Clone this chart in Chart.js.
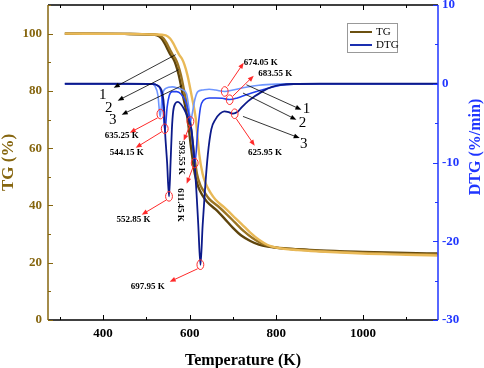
<!DOCTYPE html>
<html>
<head>
<meta charset="utf-8">
<script src="https://cdn.jsdelivr.net/npm/chart.js@4.4.0/dist/chart.umd.min.js"></script>
<style>
html,body{margin:0;padding:0;background:#fff;}
canvas{display:block;}
</style>
</head>
<body>
<canvas id="c" width="484" height="368"></canvas>
<script>
// ---- tick labels ----
const xTicks = [400, 600, 800, 1000];
const xMinor = [300, 500, 700, 900, 1100];
const tgTicks = [0, 20, 40, 60, 80, 100];
const tgMinor = [10, 30, 50, 70, 90, 110];
const dtgTicks = [-30, -20, -10, 0, 10];
const dtgMinor = [-25, -15, -5, 5];

// ---- TG series (temperature K, mass %) ----
const tempTG1 = [312, 450, 510, 525, 535, 542, 550, 556, 562, 568, 575, 585, 595, 604, 612, 620, 630, 640, 660, 680, 700, 720, 740, 760, 780, 800, 850, 900, 1000, 1100, 1172];
const tg1 =     [100, 99.9, 99.7, 99.4, 98.3, 96.7, 94.3, 92.6, 91.3, 89.2, 85.5, 78, 70.5, 59.4, 51, 46.5, 43.4, 41.3, 38.6, 35.5, 32.2, 29.4, 27.6, 26.3, 25.6, 25.2, 24.7, 24.3, 23.8, 23.4, 23.2];
const tempTG2 = [312, 450, 515, 530, 540, 547, 555, 561, 567, 573, 580, 590, 600, 609, 617, 625, 635, 645, 665, 685, 705, 725, 745, 765, 785, 800, 850, 900, 1000, 1100, 1172];
const tg2 =     [100, 99.9, 99.7, 99.4, 98.3, 96.7, 94.3, 92.6, 91.3, 89.2, 85.5, 78, 70.5, 59.4, 51, 47, 44.5, 42.3, 39.8, 37, 34, 31, 28.6, 26.8, 25.7, 25.3, 24.6, 24.1, 23.5, 23.1, 22.9];
const tempTG3 = [312, 450, 520, 545, 555, 562, 570, 576, 582, 588, 595, 605, 614, 622, 630, 638, 648, 660, 680, 700, 720, 740, 760, 780, 800, 850, 900, 1000, 1100, 1172];
const tg3 =     [100, 99.9, 99.7, 99.4, 98.3, 96.7, 94.3, 92.6, 91.3, 89.2, 85.5, 78, 70.5, 58, 51, 47.3, 44.5, 42, 39.3, 36.4, 33.5, 30.5, 28, 26.2, 25.3, 24.4, 23.9, 23.2, 22.8, 22.5];

// ---- DTG series (temperature K, %/min) ----
const tempDTG1 = [312, 450, 510, 520, 527, 532, 537, 545, 560, 575, 585, 593, 598, 602, 607, 612, 619, 630, 645, 660, 681, 700, 730, 760, 800, 850, 1000, 1172];
const dtg1 =     [0, 0, 0, -0.3, -1.5, -4.2, -1.5, -0.6, -0.4, -0.6, -0.8, -1.3, -3, -4.8, -3.5, -2, -1.0, -0.8, -0.7, -0.8, -0.98, -0.8, -0.45, -0.2, -0.05, 0, 0, 0];
const tempDTG2 = [312, 450, 515, 525, 533, 538, 543, 548, 553, 560, 570, 580, 590, 598, 604, 612, 619, 625, 632, 645, 660, 675, 692, 710, 731, 760, 785, 810, 840, 900, 1000, 1172];
const dtg2 =     [0, 0, 0, -0.2, -0.8, -2.5, -6, -3, -1.5, -1.0, -1.0, -1.3, -2.2, -3.8, -5.8, -10.1, -5.8, -3, -2.1, -1.8, -1.8, -1.85, -2.0, -1.8, -1.4, -0.9, -0.5, -0.2, -0.05, 0, 0, 0];
const tempDTG3 = [312, 450, 515, 525, 532, 537, 541, 543, 548, 552.5, 556, 559, 562, 567, 573, 580, 588, 596, 604, 610, 616, 620, 625, 630, 636, 642, 650, 660, 670, 680, 690, 700, 710, 720, 735, 750, 770, 790, 810, 840, 900, 1000, 1172];
const dtg3 =     [0, 0, -0.05, -0.2, -0.5, -1.2, -3, -5.8, -10, -14.3, -10, -5.8, -3.5, -2.5, -2.3, -2.6, -3.3, -4.3, -5.8, -9, -14, -18, -23, -18, -13, -9, -5.8, -4.5, -3.8, -3.5, -3.6, -3.8, -3.6, -3.0, -2.2, -1.6, -0.9, -0.4, -0.15, -0.03, 0, 0, 0];

// ---- annotations (data units: K, %/min) ----
const circles = [[681,-0.98],[692.4,-2.03],[703.9,-3.81],[532.5,-3.85],[542.5,-5.71],[552.4,-14.3],[601.8,-4.79],[611.7,-10.07],[624.8,-22.98]];
const redArrows = [[687.9,-0.32,724.8,2.67],[699.4,-1.59,747.9,1.02],[707.5,-4.44,750.2,-7.87],[526.3,-4.32,461.8,-6.22],[535.5,-6.1,475.5,-8.13],[547.1,-14.73,489.4,-16.63],[600.2,-5.33,586.3,-7.24],[608.2,-10.54,593.2,-12.7],[618.6,-23.49,554,-25.14]];
const peakLabels = [["674.05 K",725,2.67,0],["683.55 K",758.3,1.27,0],["625.95 K",734.7,-8.8,0],["635.25 K",404,-6.6,0],["544.15 K",415.8,-8.76,0],["552.85 K",431,-17.27,0],["697.95 K",464,-25.78,0],["593.55 K",580,-9.4,1],["611.45 K",579.5,-15.4,1]];
const blackArrowsTG = [[567.8,92.66,424.8,81.1],[574.8,87.4,434,76.6],[581.7,81.8,443.2,71.7]];
const curveLabelsTG = [["1",399.6,78.7],["2",413.4,74.1],["3",422.6,69.9]];
const blackArrowsDTG = [[731,-0.13,857.9,-3.3],[723.1,-1.18,846.4,-4.57],[723.1,-4.15,854,-6.9]];
const curveLabelsDTG = [["1",869.5,-3.17],["2",860.2,-4.95],["3",863.2,-7.6]];

const BROWN = '#86660f';
const BLUE = '#1f35ff';
const FONT = '"Liberation Serif", "Times New Roman", serif';

function pts(t, v){ return t.map((x,i)=>({x:x, y:v[i]})); }

function drawArrow(ctx, x0, y0, x1, y1, color, lw){
  const ang = Math.atan2(y1-y0, x1-x0);
  const hl = 6, hw = 2.4;
  ctx.save();
  ctx.strokeStyle = color; ctx.fillStyle = color; ctx.lineWidth = lw;
  ctx.beginPath(); ctx.moveTo(x0,y0);
  ctx.lineTo(x1 - Math.cos(ang)*hl*0.8, y1 - Math.sin(ang)*hl*0.8); ctx.stroke();
  ctx.beginPath();
  ctx.moveTo(x1,y1);
  ctx.lineTo(x1 - Math.cos(ang)*hl - Math.sin(ang)*hw, y1 - Math.sin(ang)*hl + Math.cos(ang)*hw);
  ctx.lineTo(x1 - Math.cos(ang)*hl + Math.sin(ang)*hw, y1 - Math.sin(ang)*hl - Math.cos(ang)*hw);
  ctx.closePath(); ctx.fill();
  ctx.restore();
}

const decor = {
  id: 'decor',
  afterDatasetsDraw(chart){
    const ctx = chart.ctx;
    const x = chart.scales.x, y = chart.scales.y, y1 = chart.scales.y1;
    ctx.save();
    ctx.strokeStyle = '#ff2a2a'; ctx.lineWidth = 1;
    circles.forEach(c=>{
      ctx.beginPath();
      ctx.ellipse(x.getPixelForValue(c[0]), y1.getPixelForValue(c[1]), 3.4, 4.8, 0, 0, Math.PI*2);
      ctx.stroke();
    });
    ctx.restore();
    redArrows.forEach(a=>drawArrow(ctx, x.getPixelForValue(a[0]), y1.getPixelForValue(a[1]), x.getPixelForValue(a[2]), y1.getPixelForValue(a[3]), '#ff2a2a', 1));
    blackArrowsTG.forEach(a=>drawArrow(ctx, x.getPixelForValue(a[0]), y.getPixelForValue(a[1]), x.getPixelForValue(a[2]), y.getPixelForValue(a[3]), '#000', 0.8));
    blackArrowsDTG.forEach(a=>drawArrow(ctx, x.getPixelForValue(a[0]), y1.getPixelForValue(a[1]), x.getPixelForValue(a[2]), y1.getPixelForValue(a[3]), '#000', 0.8));
    ctx.save();
    ctx.fillStyle = '#000';
    ctx.font = 'bold 9px ' + FONT;
    ctx.textBaseline = 'middle';
    peakLabels.forEach(l=>{
      const px = x.getPixelForValue(l[1]), py = y1.getPixelForValue(l[2]);
      if (l[3]) {
        ctx.save(); ctx.translate(px, py); ctx.rotate(Math.PI/2);
        ctx.textAlign = 'center'; ctx.fillText(l[0], 0, 0); ctx.restore();
      } else {
        ctx.textAlign = 'left'; ctx.fillText(l[0], px, py);
      }
    });
    ctx.font = '15px ' + FONT;
    ctx.textAlign = 'center';
    curveLabelsTG.forEach(l=>ctx.fillText(l[0], x.getPixelForValue(l[1]), y.getPixelForValue(l[2])));
    curveLabelsDTG.forEach(l=>ctx.fillText(l[0], x.getPixelForValue(l[1]), y1.getPixelForValue(l[2])));
    ctx.restore();
  },
  afterDraw(chart){
    const ctx = chart.ctx, a = chart.chartArea;
    const x = chart.scales.x, y = chart.scales.y, y1 = chart.scales.y1;
    ctx.save();
    ctx.lineWidth = 1.5;
    ctx.strokeStyle = '#000';
    ctx.beginPath(); ctx.moveTo(a.left, a.bottom); ctx.lineTo(a.right, a.bottom); ctx.stroke();
    ctx.beginPath(); ctx.moveTo(a.left, a.top); ctx.lineTo(a.right, a.top); ctx.stroke();
    ctx.strokeStyle = BROWN;
    ctx.beginPath(); ctx.moveTo(a.left, a.top); ctx.lineTo(a.left, a.bottom); ctx.stroke();
    ctx.strokeStyle = BLUE;
    ctx.beginPath(); ctx.moveTo(a.right, a.top); ctx.lineTo(a.right, a.bottom); ctx.stroke();
    ctx.lineWidth = 1;
    ctx.strokeStyle = '#000';
    const tx = (vals, len)=>vals.forEach(v=>{
      const p = Math.round(x.getPixelForValue(v)) + 0.5;
      ctx.beginPath(); ctx.moveTo(p, a.bottom); ctx.lineTo(p, a.bottom-len);
      ctx.moveTo(p, a.top); ctx.lineTo(p, a.top+len); ctx.stroke();
    });
    tx(xTicks, 5); tx(xMinor, 3);
    ctx.strokeStyle = BROWN;
    const ty = (vals, len)=>vals.forEach(v=>{
      const p = Math.round(y.getPixelForValue(v)) + 0.5;
      ctx.beginPath(); ctx.moveTo(a.left, p); ctx.lineTo(a.left+len, p); ctx.stroke();
    });
    ty(tgTicks, 5); ty(tgMinor, 3);
    ctx.strokeStyle = BLUE;
    const ty1 = (vals, len)=>vals.forEach(v=>{
      const p = Math.round(y1.getPixelForValue(v)) + 0.5;
      ctx.beginPath(); ctx.moveTo(a.right, p); ctx.lineTo(a.right-len, p); ctx.stroke();
    });
    ty1(dtgTicks, 5); ty1(dtgMinor, 3);
    ctx.textAlign = 'center'; ctx.textBaseline = 'middle';
    ctx.fillStyle = '#000';
    ctx.font = 'bold 16px ' + FONT;
    ctx.fillText('Temperature (K)', (a.left+a.right)/2, 361);
    ctx.save(); ctx.translate(9, (a.top+a.bottom)/2); ctx.rotate(-Math.PI/2);
    ctx.fillStyle = BROWN; ctx.font = 'bold 17px ' + FONT; ctx.fillText('TG (%)', 0, 0); ctx.restore();
    ctx.save(); ctx.translate(476, 147); ctx.rotate(-Math.PI/2);
    ctx.fillStyle = BLUE; ctx.font = 'bold 16px ' + FONT; ctx.fillText('DTG (%/min)', 0, 0); ctx.restore();
    const lx = a.right - 91, ly = a.top + 18;
    ctx.fillStyle = '#fff'; ctx.fillRect(lx, ly, 50, 29);
    ctx.strokeStyle = '#999'; ctx.lineWidth = 1; ctx.strokeRect(lx+0.5, ly+0.5, 50, 29);
    ctx.lineWidth = 2;
    ctx.strokeStyle = '#6b5010';
    ctx.beginPath(); ctx.moveTo(lx+3, ly+9); ctx.lineTo(lx+25, ly+9); ctx.stroke();
    ctx.strokeStyle = '#1a2fb0';
    ctx.beginPath(); ctx.moveTo(lx+3, ly+22); ctx.lineTo(lx+25, ly+22); ctx.stroke();
    ctx.fillStyle = '#000'; ctx.font = '11px ' + FONT; ctx.textAlign = 'left';
    ctx.fillText('TG', lx+29, ly+9);
    ctx.fillText('DTG', lx+29, ly+22);
    ctx.restore();
  }
};

const tickFont = {family: FONT, size: 13, weight: 'bold'};
const common = {pointRadius: 0, fill: false, cubicInterpolationMode: 'monotone'};

function fitV(w){ return s => { s.width = w; s.paddingTop = 0; s.paddingBottom = 0; }; }

new Chart(document.getElementById('c'), {
  type: 'line',
  data: {
    datasets: [
      Object.assign({label:'TG 1', data: pts(tempTG1, tg1), borderColor:'#5e440c', borderWidth:2.4, yAxisID:'y', order:6}, common),
      Object.assign({label:'TG 2', data: pts(tempTG2, tg2), borderColor:'#9b7422', borderWidth:2.4, yAxisID:'y', order:5}, common),
      Object.assign({label:'TG 3', data: pts(tempTG3, tg3), borderColor:'#e9b957', borderWidth:2.4, yAxisID:'y', order:4}, common),
      Object.assign({label:'DTG 1', data: pts(tempDTG1, dtg1), borderColor:'#6f96ff', borderWidth:1.6, yAxisID:'y1', order:3}, common),
      Object.assign({label:'DTG 2', data: pts(tempDTG2, dtg2), borderColor:'#2342f0', borderWidth:1.6, yAxisID:'y1', order:2}, common),
      Object.assign({label:'DTG 3', data: pts(tempDTG3, dtg3), borderColor:'#0c1a8a', borderWidth:1.8, yAxisID:'y1', order:1}, common)
    ]
  },
  options: {
    responsive: false,
    devicePixelRatio: 1,
    animation: false,
    layout: {padding: {top: 5, left: 0, right: 0, bottom: 0}},
    plugins: {legend: {display: false}, tooltip: {enabled: false}},
    scales: {
      x: {
        type: 'linear', position: 'bottom', min: 273.15, max: 1173.15,
        grid: {display: false, drawTicks: false}, border: {display: false},
        ticks: {font: tickFont, color: '#000', padding: 6, maxRotation: 0, callback: v => String(v)},
        afterBuildTicks: s => { s.ticks = xTicks.map(v => ({value: v})); },
        afterFit: s => { s.height = 48; s.paddingLeft = 0; s.paddingRight = 0; }
      },
      y: {
        type: 'linear', position: 'left', min: 0, max: 110,
        grid: {display: false, drawTicks: false}, border: {display: false},
        ticks: {font: tickFont, color: BROWN, padding: 6, callback: v => String(v)},
        afterBuildTicks: s => { s.ticks = tgTicks.map(v => ({value: v})); },
        afterFit: fitV(48)
      },
      y1: {
        type: 'linear', position: 'right', min: -30, max: 10,
        grid: {display: false, drawTicks: false}, border: {display: false},
        ticks: {font: tickFont, color: BLUE, padding: 4, callback: v => String(v)},
        afterBuildTicks: s => { s.ticks = dtgTicks.map(v => ({value: v})); },
        afterFit: fitV(46)
      }
    }
  },
  plugins: [decor]
});
</script>
</body>
</html>
